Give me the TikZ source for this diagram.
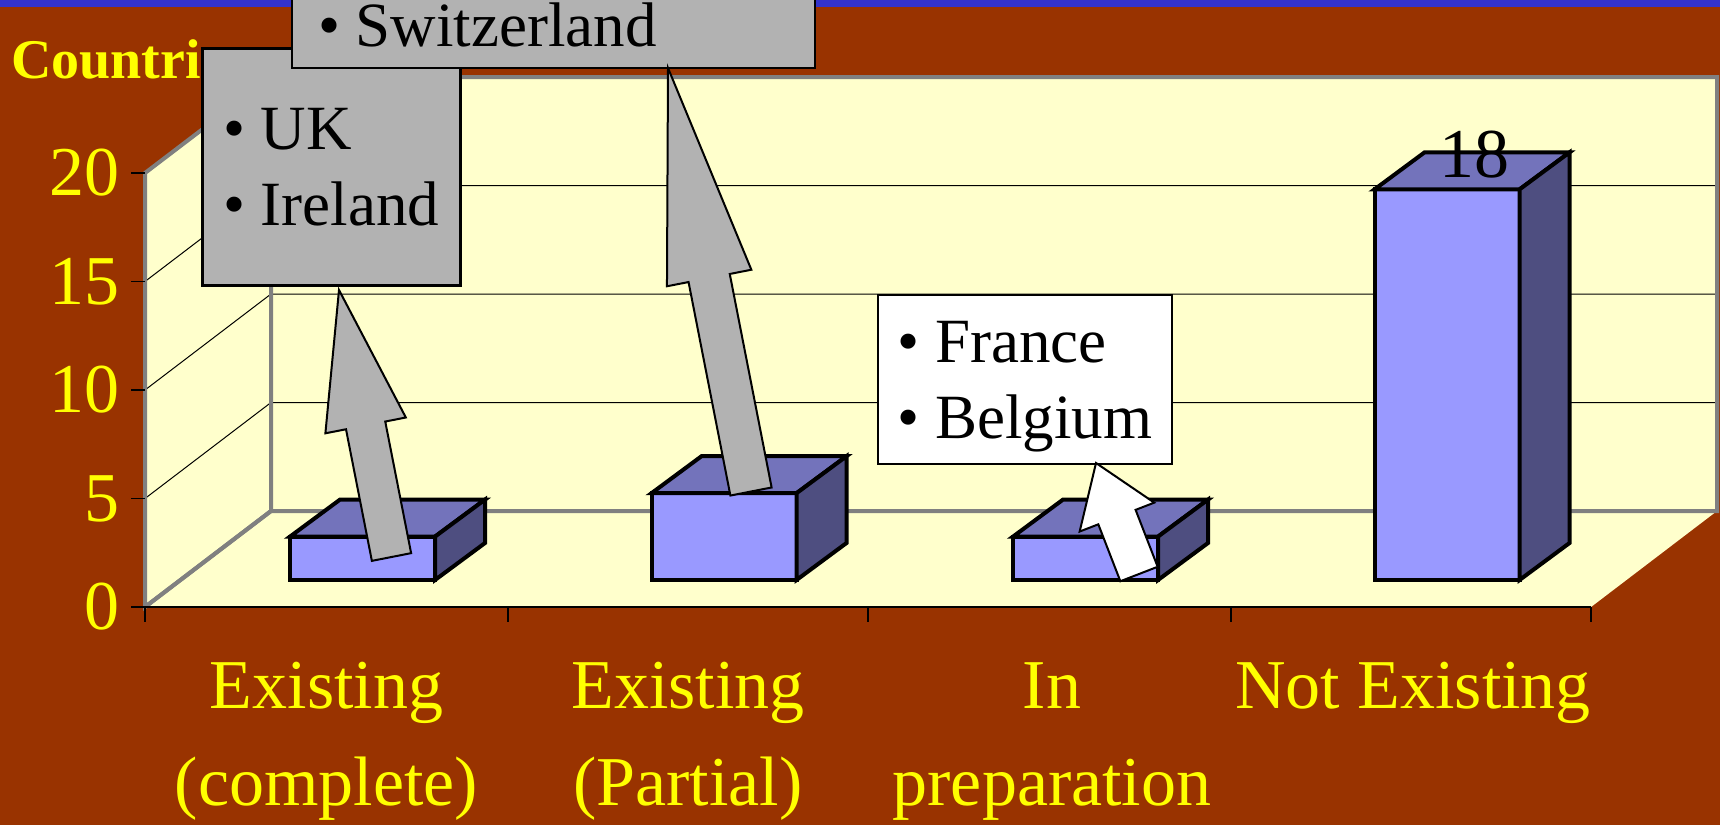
\documentclass[tikz,border=0pt]{standalone}
\usepackage{fontspec}
\setmainfont{Liberation Serif}
\usetikzlibrary{calc, positioning}

\definecolor{ground}{HTML}{993300}
\definecolor{band}{HTML}{3333CC}
\definecolor{wallyellow}{HTML}{FFFFCC}
\definecolor{edgegray}{HTML}{808080}
\definecolor{barfill}{HTML}{9999FF}
\definecolor{bartopfill}{HTML}{7373BB}
\definecolor{barsidefill}{HTML}{4E4E80}
\definecolor{calloutgray}{HTML}{B2B2B2}
\definecolor{labelyellow}{HTML}{FFFF00}

\newcommand{\itm}{\makebox[0.6em][l]{•}}
% block arrow: style, tail, tip, half shaft, half head, head length
\newcommand{\blockarrow}[6]{%
  \coordinate (hb) at ($(#3)!#6pt!(#2)$);
  \draw[#1] ($(#2)!#4pt!90:(#3)$) -- ($(hb)!#4pt!90:(#3)$) -- ($(hb)!#5pt!90:(#3)$) -- (#3)
    -- ($(hb)!#5pt!-90:(#3)$) -- ($(hb)!#4pt!-90:(#3)$) -- ($(#2)!#4pt!-90:(#3)$) -- cycle;}

\begin{document}
\begin{tikzpicture}[x=1pt,y=-1pt,node distance=97pt]
\tikzstyle{wall}=[fill=wallyellow]
\tikzstyle{edge}=[draw=edgegray, line width=4pt]
\tikzstyle{grid}=[draw=black, line width=1pt]
\tikzstyle{axis}=[draw=black, line width=1.5pt]
\tikzstyle{ticklabel}=[anchor=east, inner sep=0pt, text=labelyellow, font=\fontsize{70}{84}\selectfont]
\tikzstyle{catlabel}=[inner sep=0pt, text=labelyellow, text height=50pt, text depth=16pt, font=\fontsize{70}{84}\selectfont]
\tikzstyle{barfront}=[fill=barfill, draw=black, line width=4pt]
\tikzstyle{bartop}=[fill=bartopfill, draw=black, line width=4pt]
\tikzstyle{barside}=[fill=barsidefill, draw=black, line width=4pt]
\tikzstyle{callout}=[fill=calloutgray, draw=black, line width=2.5pt]
\tikzstyle{calloutw}=[fill=white, draw=black, line width=2pt]
\tikzstyle{boxtext}=[font=\fontsize{63}{76}\selectfont, align=left]

\clip (0,0) rectangle (1720,825);
\fill[ground] (0,0) rectangle (1720,825);
\fill[band] (0,0) rectangle (1720,7);

% walls and floor
\fill[wall] (145,607) -- (145,173) -- (271,77) -- (271,511) -- cycle;
\fill[wall] (271,77) rectangle (1717,511);
\fill[wall] (145,607) -- (1591,607) -- (1717,511) -- (271,511) -- cycle;

\foreach \v in {5,10,15}
  \draw[grid] (145,607-21.7*\v) -- (271,511-21.7*\v) -- (1717,511-21.7*\v);

\draw[edge] (145,607) -- (145,173) -- (271,77) -- (1717,77) -- (1717,511) -- (271,511) -- cycle;
\draw[edge] (145,607) -- (271,511) -- (271,77);

% axes
\draw[axis] (131,607) -- (1591,607);
\foreach \x in {145,508,868,1231,1591}
  \draw[axis] (\x,607) -- (\x,622);
\foreach \v in {0,5,10,15,20} {
  \draw[axis] (131,607-21.7*\v) -- (145,607-21.7*\v);
  \node[ticklabel] (t\v) at (120,607-21.7*\v) {\v};
}

% bars
\foreach \x/\v in {362.5/2, 724/4, 1085.5/2, 1447/18} {
  \pgfmathsetmacro{\ytop}{580-21.7*\v}
  \draw[barfront] (\x-72.5,580) rectangle (\x+72.5,\ytop);
  \draw[bartop] (\x-72.5,\ytop) -- ++(50,-37) -- ++(145,0) -- (\x+72.5,\ytop) -- cycle;
  \draw[barside] (\x+72.5,580) -- (\x+72.5,\ytop) -- ++(50,-37) -- ++(0,{21.7*\v}) -- cycle;
}
\node[anchor=base, inner sep=0pt, font=\fontsize{70}{84}\selectfont] (v18) at (1474,177) {18};

% category labels
\node[catlabel] (cat1) at (326.5,691) {Existing};
\node[catlabel] (cat1b) [below of = cat1] {(complete)};
\node[catlabel] (cat2) at (688,691) {Existing};
\node[catlabel] (cat2b) [below of = cat2] {(Partial)};
\node[catlabel] (cat3) at (1052,691) {In};
\node[catlabel] (cat3b) [below of = cat3] {preparation};
\node[catlabel] (cat4) at (1413,691) {Not Existing};

\node[anchor=base west, inner sep=0pt, text=labelyellow, font=\bfseries\fontsize{56}{60}\selectfont] (ytitle) at (11,78) {Countri};

% callouts
\node[callout, boxtext, anchor=north west, minimum width=258pt, minimum height=237pt] (ukbox) at (201,47) {\itm UK\\\itm Ireland};
\draw[callout] (292,-40) rectangle (815,68);
\node[boxtext, anchor=base west, inner sep=0pt] (swiss) at (318,46) {\itm Switzerland};
\node[calloutw, boxtext, anchor=north west, minimum width=294pt, minimum height=169pt, text depth=0pt] (frbox) at (877,294) {\itm France\\\itm Belgium};

\coordinate (uktail) at (391.5,557);
\coordinate (uktip) at (339,290);
\coordinate (swisstail) at (751,491.5);
\coordinate (swisstip) at (668,68);
\coordinate (frtail) at (1139,574);
\coordinate (frtip) at (1096,463);

\blockarrow{callout, line width=2pt}{uktail}{uktip}{20}{41}{138}
\blockarrow{callout, line width=2pt}{swisstail}{swisstip}{21}{43}{214}
\blockarrow{calloutw}{frtail}{frtip}{20}{40}{58}
\end{tikzpicture}
\end{document}
